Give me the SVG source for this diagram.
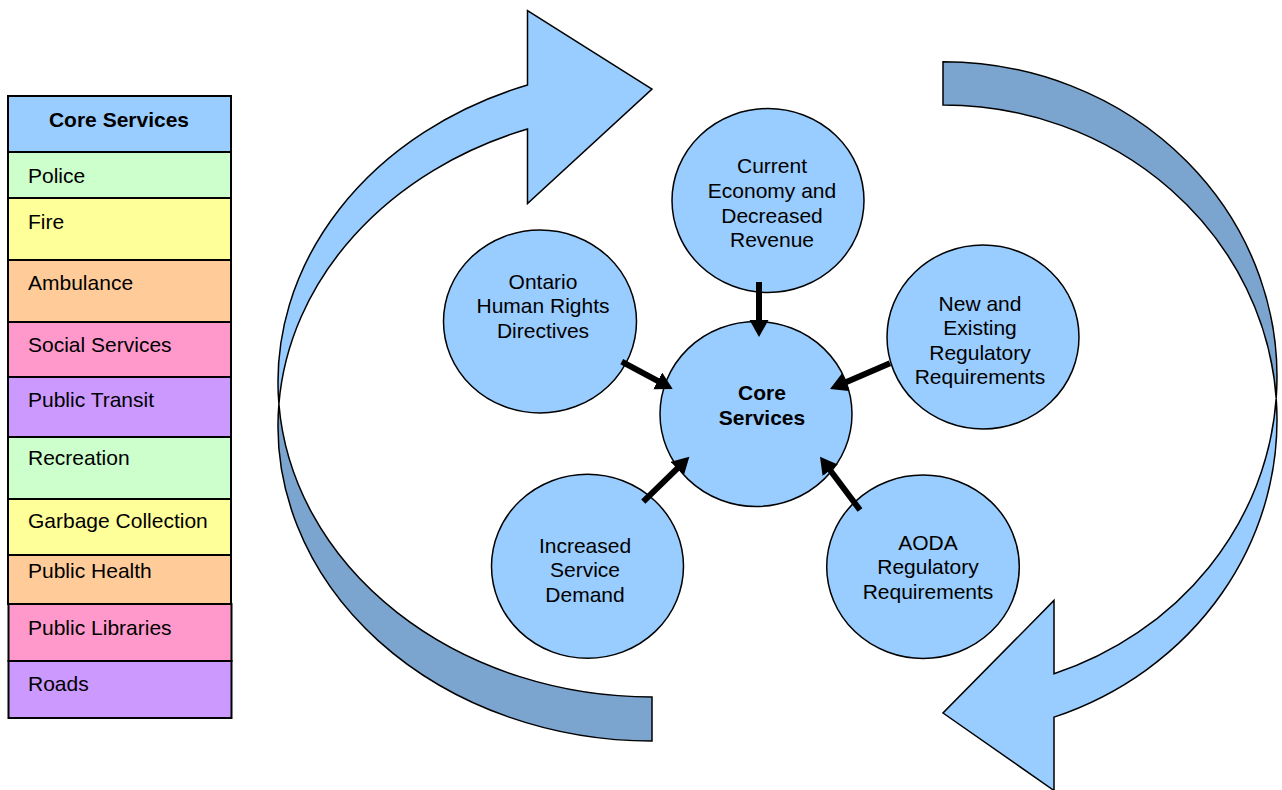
<svg xmlns="http://www.w3.org/2000/svg" width="1282" height="790" viewBox="0 0 1282 790">
  <defs>
    <style>
      text { font-family: "Liberation Sans", Arial, sans-serif; font-size: 21px; fill: #000; }
      .bold { font-weight: bold; }
      .mid { text-anchor: middle; }
      .cell { stroke: #000; stroke-width: 2; }
      .bubble { fill: #99CCFF; stroke: #000; stroke-width: 1.5; }
      .front { fill: #99CCFF; stroke: #000; stroke-width: 1.5; stroke-linejoin: miter; }
      .back { fill: #7BA5CE; stroke: #000; stroke-width: 1.5; }
      .link { stroke: #000; stroke-width: 6; fill: none; marker-end: url(#head); }
    </style>
    <marker id="head" markerUnits="userSpaceOnUse" markerWidth="18" markerHeight="20" refX="1" refY="9.5" orient="auto">
      <path d="M0,0 L17,9.5 L0,19 Z" fill="#000"/>
    </marker>
  </defs>

  <!-- Legend table of core services -->
  <g id="legend">
    <rect class="cell" x="8" y="96" width="223" height="56" fill="#99CCFF"/>
    <text class="bold mid" x="119" y="127">Core Services</text>
    <rect class="cell" x="8" y="152" width="223" height="46" fill="#CCFFCC"/>
    <text x="28" y="183">Police</text>
    <rect class="cell" x="8" y="198" width="223" height="62" fill="#FFFF99"/>
    <text x="28" y="229">Fire</text>
    <rect class="cell" x="8" y="260" width="223" height="62" fill="#FFCC99"/>
    <text x="28" y="290">Ambulance</text>
    <rect class="cell" x="8" y="322" width="223" height="55" fill="#FF99CC"/>
    <text x="28" y="352">Social Services</text>
    <rect class="cell" x="8" y="377" width="223" height="60" fill="#CC99FF"/>
    <text x="28" y="407">Public Transit</text>
    <rect class="cell" x="8" y="437" width="223" height="62" fill="#CCFFCC"/>
    <text x="28" y="465">Recreation</text>
    <rect class="cell" x="8" y="499" width="223" height="56" fill="#FFFF99"/>
    <text x="28" y="528">Garbage Collection</text>
    <rect class="cell" x="8" y="555" width="223" height="49" fill="#FFCC99"/>
    <text x="28" y="578">Public Health</text>
    <rect class="cell" x="8.5" y="604" width="223" height="57" fill="#FF99CC"/>
    <text x="28" y="635">Public Libraries</text>
    <rect class="cell" x="8.5" y="661" width="223" height="57" fill="#CC99FF"/>
    <text x="28" y="691">Roads</text>
  </g>

  <!-- Left cycle arrow: back half (tail) then front half with head -->
  <g id="cycle-left">
    <path class="back" d="M278.9,404 A374,315 0 0 0 652,741 L652,697 A374,315 0 0 1 278.9,404 Z"/>
    <path class="front" d="M278.9,404 A374,315 0 0 1 527.5,85 L527.5,10.5 L652,89 L527.5,203.5 L527.5,129 A374,315 0 0 0 278.9,404 Z"/>
  </g>

  <!-- Right cycle arrow: back half (tail) then front half with head -->
  <g id="cycle-right">
    <path class="back" d="M943,61.7 A334,315 0 0 1 1276.2,398.3 A334,315 0 0 0 943,105 Z"/>
    <path class="front" d="M1276.2,398.3 A334,315 0 0 1 1054,673.8 L1054,600.4 L943,713 L1054,790.5 L1054,717.1 A334,315 0 0 0 1276.2,398.3 Z"/>
  </g>

  <!-- Pressure nodes -->
  <g id="node-economy">
    <ellipse class="bubble" cx="768" cy="200.5" rx="96" ry="92"/>
    <text class="mid" x="772" y="173">Current</text>
    <text class="mid" x="772" y="197.5">Economy and</text>
    <text class="mid" x="772" y="222.5">Decreased</text>
    <text class="mid" x="772" y="246.5">Revenue</text>
  </g>
  <g id="node-human-rights">
    <ellipse class="bubble" cx="540" cy="321.5" rx="96.5" ry="91.5"/>
    <text class="mid" x="543" y="288.5">Ontario</text>
    <text class="mid" x="543" y="313">Human Rights</text>
    <text class="mid" x="543" y="337.5">Directives</text>
  </g>
  <g id="node-regulatory">
    <ellipse class="bubble" cx="983" cy="337" rx="96" ry="92"/>
    <text class="mid" x="980" y="310.5">New and</text>
    <text class="mid" x="980" y="335">Existing</text>
    <text class="mid" x="980" y="359.5">Regulatory</text>
    <text class="mid" x="980" y="384">Requirements</text>
  </g>
  <g id="node-demand">
    <ellipse class="bubble" cx="587.5" cy="566.3" rx="96" ry="92"/>
    <text class="mid" x="585" y="552.5">Increased</text>
    <text class="mid" x="585" y="577">Service</text>
    <text class="mid" x="585" y="601.5">Demand</text>
  </g>
  <g id="node-aoda">
    <ellipse class="bubble" cx="923" cy="566.7" rx="96.3" ry="91.7"/>
    <text class="mid" x="928" y="549.5">AODA</text>
    <text class="mid" x="928" y="574">Regulatory</text>
    <text class="mid" x="928" y="598.5">Requirements</text>
  </g>

  <!-- Central node -->
  <g id="node-core">
    <ellipse class="bubble" cx="756" cy="414" rx="96" ry="92.5"/>
    <text class="bold mid" x="762" y="400">Core</text>
    <text class="bold mid" x="762" y="424.5">Services</text>
  </g>

  <!-- Connectors into the central node -->
  <g id="connectors">
    <line class="link" x1="759" y1="282" x2="759" y2="321"/>
    <line class="link" x1="621.7" y1="361.7" x2="658.6" y2="381.4"/>
    <line class="link" x1="890" y1="363.3" x2="844.7" y2="382.7"/>
    <line class="link" x1="643.3" y1="501.7" x2="677.9" y2="467.9"/>
    <line class="link" x1="860" y1="510" x2="829.6" y2="469.5"/>
  </g>
</svg>
